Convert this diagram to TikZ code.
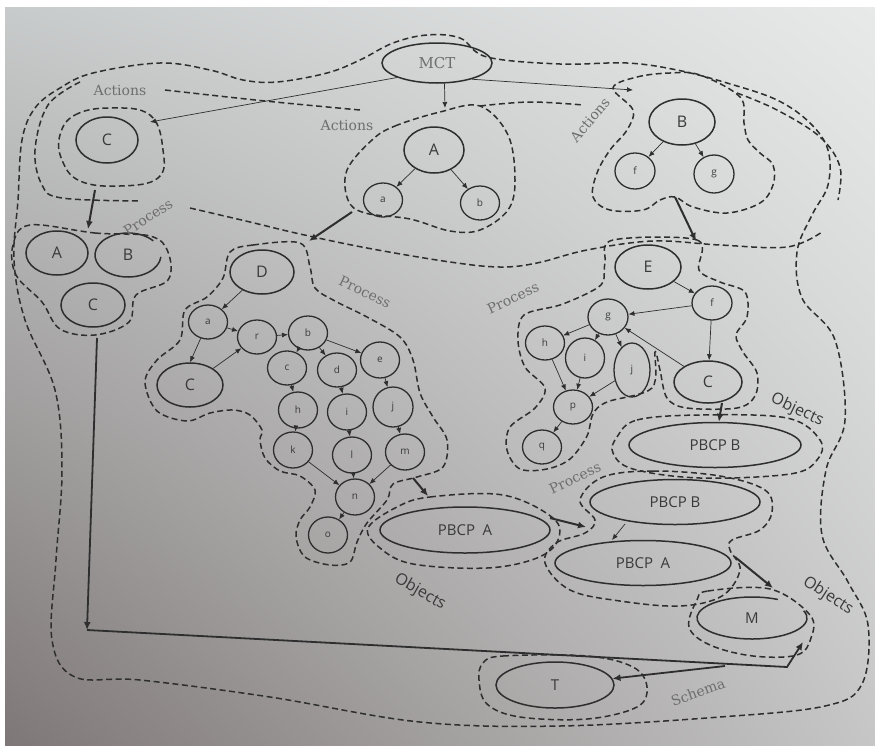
\documentclass[tikz,border=0pt]{standalone}
\usepackage{fontspec}
\setmainfont{DejaVu Serif}
\setsansfont{Open Sans}
\usetikzlibrary{shapes.geometric,arrows.meta,shadings}
\definecolor{ink}{HTML}{2E2E2E}
\definecolor{txt}{HTML}{3a3a3a}
\definecolor{lbl}{HTML}{6e6e6e}
\definecolor{bgul}{HTML}{C8CBCB}
\definecolor{bgur}{HTML}{E8EAEA}
\definecolor{bgll}{HTML}{7E7777}
\definecolor{bglr}{HTML}{C6C6C6}
\begin{document}
\begin{tikzpicture}[x=1pt,y=-1pt,
  nd/.style={ellipse, draw=ink, line width=1.5pt, inner sep=0pt, text=txt, font=\sffamily\fontsize{16}{16}\selectfont},
  bignd/.style={nd, minimum width=64pt, minimum height=44pt},
  smallnd/.style={nd, minimum width=39pt, minimum height=34pt, line width=1.3pt, font=\sffamily\fontsize{10}{10}\selectfont},
  objnd/.style={nd, minimum width=172pt, minimum height=45pt, font=\sffamily\fontsize{15}{15}\selectfont},
  link/.style={draw=ink, line width=0.7pt, -{Latex[length=6pt,width=5pt]}},
  boldlink/.style={draw=ink, line width=2pt, -{Latex[length=8pt,width=7pt]}},
  region/.style={draw=ink, line width=1.5pt, dash pattern=on 6pt off 3.5pt},
  serlbl/.style={text=lbl, font=\rmfamily\fontsize{14}{14}\selectfont},
  objlbl/.style={text=txt, font=\sffamily\fontsize{16}{16}\selectfont},
  arcline/.style={draw=ink, line width=1.5pt}
]
\useasboundingbox (0,0) rectangle (875,745);
\fill[white] (0,0) rectangle (875,745);
\shade[upper left=bgul, upper right=bgur, lower left=bgll, lower right=bglr] (5,7) rectangle (875,745);

% ---------- dashed regions ----------
% outer schema
\draw[region] plot[smooth cycle, tension=0.6] coordinates {
 (460,38) (427,35) (393,43) (360,60) (327,73) (277,82) (243,80) (210,70) (160,63) (93,73) (60,88) (35,108) (22,140) (18,200) (14,260) (25,320) (55,390) (62,470) (56,560) (52,640) (75,677) (140,680) (270,697) (420,722) (560,726) (720,717) (825,706) (862,684) (868,625) (848,582) (822,535) (826,470) (845,420) (835,340) (802,298) (797,252) (812,215) (828,185) (828,150) (810,123) (777,100) (727,83) (677,70) (627,63) (560,64) (487,57)};
% actions / process divider
\draw[region] plot[smooth, tension=0.6] coordinates {(80,82) (48,105) (35,150) (42,185) (62,198) (140,201)};
\draw[region] plot[smooth, tension=0.6] coordinates {(190,208) (250,222) (300,234) (367,248) (450,262) (500,267) (537,263) (587,250) (653,241) (720,245) (787,247) (822,232)};
% second right line
\draw[region] plot[smooth, tension=0.6] coordinates {(737,93) (777,110) (820,137) (840,167) (838,200)};
% actions lines
\draw[region] plot[smooth, tension=0.6] coordinates {(165,90) (265,101) (360,110)};
\draw[region] plot[smooth, tension=0.6] coordinates {(480,106) (530,102) (583,105)};
% C blob (top)
\draw[region] plot[smooth cycle, tension=0.7] coordinates {(60,135) (75,115) (110,108) (150,115) (163,150) (158,178) (120,186) (80,181) (62,160)};
% A subtree blob
\draw[region] plot[smooth cycle, tension=0.6] coordinates {(372,140) (395,126) (440,112) (480,106) (508,135) (515,180) (508,210) (480,230) (450,231) (410,219) (365,213) (348,200) (347,170)};
% B subtree blob
\draw[region] plot[smooth cycle, tension=0.6] coordinates {(613,88) (637,77) (670,73) (700,75) (740,97) (744,123) (748,140) (760,153) (773,165) (773,185) (760,203) (727,213) (693,207) (675,197) (660,200) (643,210) (610,210) (593,197) (597,173) (610,150) (627,130) (633,110)};
% left process blob
\draw[region] plot[smooth cycle, tension=0.6] coordinates {(30,225) (95,233) (150,236) (168,252) (168,280) (136,295) (129,322) (95,335) (60,329) (42,302) (16,275) (13,245)};
% D blob
\draw[region] plot[smooth cycle, tension=0.55] coordinates {(230,252) (253,245) (300,243) (310,267) (315,288) (335,301) (367,317) (400,337) (413,360) (420,393) (433,417) (447,440) (443,467) (417,477) (393,484) (387,500) (367,523) (357,542) (350,562) (330,565) (305,557) (296,537) (300,520) (310,507) (315,490) (300,476) (280,471) (265,458) (260,440) (262,430) (250,415) (233,410) (210,413) (187,421) (157,411) (145,382) (157,360) (180,340) (185,310) (207,297) (223,278)};
% E blob
\draw[region] plot[smooth cycle, tension=0.55] coordinates {(613,240) (697,240) (699,270) (720,282) (745,292) (747,317) (736,335) (743,352) (757,373) (755,396) (737,408) (687,408) (667,398) (660,370) (655,352) (652,388) (607,402) (593,414) (587,436) (570,459) (547,469) (520,469) (507,450) (510,427) (535,408) (545,388) (525,367) (518,340) (524,315) (560,305) (590,292) (603,282) (605,262)};
% PBCP B (top) blob
\draw[region] plot[smooth cycle, tension=0.6] coordinates {(617,437) (637,420) (700,415) (787,418) (820,440) (817,460) (790,474) (700,478) (633,469) (613,453)};
% PBCP B + PBCP A blob
\draw[region] plot[smooth cycle, tension=0.6] coordinates {(603,477) (653,471) (720,476) (765,490) (772,512) (760,530) (732,540) (730,550) (740,570) (722,596) (680,606) (620,601) (570,590) (545,563) (556,543) (585,533) (595,520) (580,500)};
% PBCP A (left) blob
\draw[region] plot[smooth cycle, tension=0.6] coordinates {(397,507) (430,497) (503,495) (553,518) (558,540) (537,558) (487,568) (413,564) (380,548) (368,528)};
% M blob
\draw[region] plot[smooth cycle, tension=0.6] coordinates {(697,600) (708,591) (770,589) (810,615) (811,638) (797,655) (753,656) (710,645) (689,627)};
% T blob
\draw[region] plot[smooth cycle, tension=0.6] coordinates {(483,663) (503,656) (587,656) (633,667) (647,687) (637,707) (587,719) (520,717) (487,704) (479,680)};

% ---------- nodes ----------
\node[nd, minimum width=110pt, minimum height=40pt, text=lbl, font=\rmfamily\fontsize{15}{15}\selectfont] (MCT) at (437,63) {MCT};
\node[bignd, minimum width=62pt, minimum height=46pt] (Ct) at (107,140) {C};
\node[bignd, minimum width=60pt, minimum height=46pt] (At) at (434,150) {A};
\node[smallnd] (at) at (383,200) {a};
\node[smallnd] (bt) at (480,203) {b};
\node[bignd, minimum width=66pt, minimum height=46pt] (Bt) at (682,122) {B};
\node[smallnd, minimum width=40pt, minimum height=36pt] (ft) at (635,171) {f};
\node[smallnd, minimum width=40pt, minimum height=38pt] (gt) at (714,174) {g};

\node[bignd, minimum width=62pt] (Ap) at (57,253) {A};
\node[bignd, draw=none, minimum width=66pt] (Bp) at (128,255) {B};
\draw[arcline] ([shift={(40:33pt and 22pt)}]Bp.center) arc[start angle=40, end angle=355, x radius=33pt, y radius=22pt];
\node[bignd, minimum width=64pt] (Cp) at (93,305) {C};

\node[bignd, minimum width=64pt] (D) at (262,272) {D};
\node[smallnd] (da) at (208,322) {a};
\node[smallnd] (dr) at (257,337) {r};
\node[smallnd] (db) at (308,333) {b};
\node[smallnd, minimum height=36pt] (de) at (380,360) {e};
\node[bignd, minimum width=66pt] (dC) at (190,385) {C};
\node[smallnd] (dc) at (287,368) {c};
\node[smallnd] (dd) at (337,370) {d};
\node[smallnd, minimum height=36pt] (dh) at (298,410) {h};
\node[smallnd, minimum height=36pt] (di) at (347,412) {i};
\node[smallnd, minimum width=40pt, minimum height=40pt] (dj) at (393,407) {j};
\node[smallnd, minimum height=36pt] (dk) at (293,450) {k};
\node[smallnd, minimum height=36pt] (dl) at (352,455) {l};
\node[smallnd, minimum height=36pt] (dm) at (405,452) {m};
\node[smallnd, minimum height=36pt] (dn) at (355,497) {n};
\node[smallnd, minimum height=36pt] (do) at (328,535) {o};

\node[bignd, minimum width=66pt] (E) at (648,267) {E};
\node[smallnd, minimum width=40pt] (ef) at (712,303) {f};
\node[smallnd, minimum width=40pt, minimum height=36pt] (eg) at (608,317) {g};
\node[smallnd] (eh) at (545,343) {h};
\node[smallnd, minimum height=40pt] (ei) at (585,358) {i};
\node[smallnd, minimum width=36pt, minimum height=54pt] (ej) at (632,370) {j};
\node[smallnd] (ep) at (573,407) {p};
\node[smallnd] (eq) at (542,447) {q};
\node[bignd, minimum width=68pt, minimum height=42pt] (eC) at (708,382) {C};

\node[objnd] (PB1) at (715,445) {PBCP B};
\node[objnd, minimum width=170pt] (PB2) at (675,502) {PBCP B};
\node[objnd, minimum width=170pt, minimum height=46pt] (PA1) at (465,530) {PBCP\enspace A};
\node[objnd, minimum width=176pt] (PA2) at (643,563) {PBCP\enspace A};
\node[objnd, draw=none, minimum width=110pt, minimum height=42pt] (M) at (752,618) {M};
\draw[arcline] ([shift={(62:55pt and 21pt)}]M.center) arc[start angle=62, end angle=380, x radius=55pt, y radius=21pt];
\node[objnd, minimum width=118pt, minimum height=46pt] (T) at (555,685) {T};

% ---------- labels ----------
\node[serlbl] (lact1) at (120,90) {Actions};
\node[serlbl] (lact2) at (347,125) {Actions};
\node[serlbl, rotate=50] (lact3) at (590,120) {Actions};
\node[serlbl, rotate=33] (lpr1) at (148,217) {Process};
\node[serlbl, rotate=-25] (lpr2) at (365,292) {Process};
\node[serlbl, rotate=25] (lpr3) at (513,298) {Process};
\node[serlbl, rotate=25] (lpr4) at (575,478) {Process};
\node[objlbl, rotate=-25] (lob1) at (797,410) {Objects};
\node[objlbl, rotate=-30] (lob2) at (420,592) {Objects};
\node[objlbl, rotate=-33] (lob3) at (828,596) {Objects};
\node[serlbl, rotate=20] (lsch) at (698,692) {Schema};

% ---------- coordinates ----------
\coordinate (cblob) at (150,122);
\coordinate (ablob) at (445,108);
\coordinate (bblob) at (633,90);
\coordinate (cd1) at (95,190);
\coordinate (cd2) at (88,229);
\coordinate (ad1) at (352,212);
\coordinate (ad2) at (309,241);
\coordinate (be1) at (675,197);
\coordinate (be2) at (696,241);
\coordinate (dn1) at (413,478);
\coordinate (dn2) at (428,496);
\coordinate (ec1) at (722,403);
\coordinate (pa1) at (550,518);
\coordinate (pa2) at (586,527);
\coordinate (pb2a) at (625,524);
\coordinate (pa2t) at (612,540);
\coordinate (pm1) at (735,557);
\coordinate (pm2) at (773,588);
\coordinate (s0) at (97,338);
\coordinate (s1) at (87,630);
\coordinate (s2) at (787,667);
\coordinate (s3) at (803,642);
\coordinate (s4) at (725,666);

% ---------- connectors ----------
\draw[link] (MCT.-160) -- (cblob);
\draw[link] (MCT.-70) -- (ablob);
\draw[link] (MCT.-25) -- (bblob);
\draw[link] (At) -- (at);
\draw[link] (At) -- (bt);
\draw[link] (Bt) -- (ft);
\draw[link] (Bt) -- (gt);
\draw[boldlink] (cd1) -- (cd2);
\draw[boldlink] (ad1) -- (ad2);
\draw[boldlink] (be1) -- (be2);

\draw[link] (D) -- (da);
\draw[link] (da) -- (dC.north);
\draw[link] (da) -- (dr);
\draw[link] (dC) -- (dr);
\draw[link] (dr) -- (db);
\draw[link] (db) -- (de);
\draw[link] (db) -- (dc);
\draw[link] (db) -- (dd);
\draw[link] (dc) -- (dh);
\draw[link] (dd) -- (di);
\draw[link] (de) -- (dj);
\draw[link] (dh) -- (dk);
\draw[link] (di) -- (dl);
\draw[link] (dj) -- (dm);
\draw[link] (dk) -- (dn);
\draw[link] (dl) -- (dn);
\draw[link] (dm) -- (dn);
\draw[link] (dn) -- (do);
\draw[boldlink] (dn1) -- (dn2);

\draw[link] (E) -- (ef);
\draw[link] (ef) -- (eg);
\draw[link] (eg) -- (eh);
\draw[link] (eg) -- (ei);
\draw[link] (eg) -- (ej);
\draw[link] (eC) -- (eg);
\draw[link] (ef) -- (eC);
\draw[link] (eh) -- (ep);
\draw[link] (ei) -- (ep);
\draw[link] (ej) -- (ep);
\draw[link] (ep) -- (eq);
\draw[boldlink] (ec1) -- (PB1);

\draw[boldlink] (pa1) -- (pa2);
\draw[link] (pb2a) -- (pa2t);
\draw[boldlink] (pm1) -- (pm2);

\draw[boldlink, line width=1.8pt] (s0) -- (s1);
\draw[boldlink, line width=1.8pt] (s1) -- (s2) -- (s3);
\draw[boldlink, line width=1.8pt] (s4) -- (T);
\end{tikzpicture}
\end{document}
